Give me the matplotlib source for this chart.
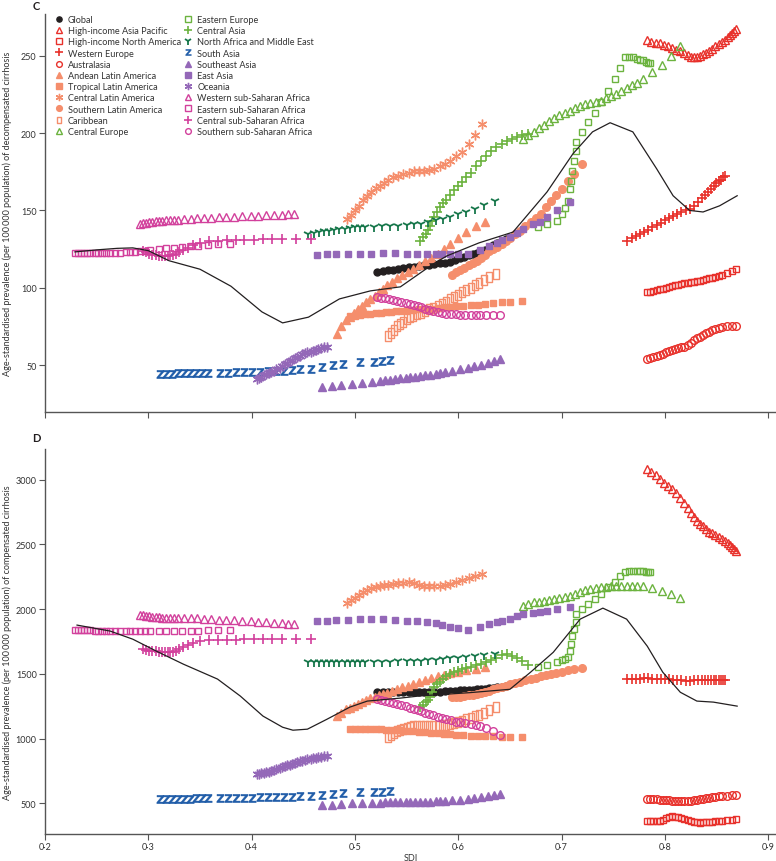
import matplotlib
matplotlib.use('Agg')
import matplotlib.pyplot as plt
from matplotlib.path import Path
from matplotlib.ticker import FuncFormatter

plt.rcParams['font.family'] = ['Lato', 'DejaVu Sans']

# ---- data: SDI (x), decompensated (panel C) and compensated (panel D) prevalence ----
sdi_global = [0.521, 0.527, 0.532, 0.537, 0.542, 0.547, 0.552, 0.557, 0.562, 0.567, 0.572, 0.577, 0.582, 0.587,
              0.592, 0.597, 0.602, 0.606, 0.610, 0.614, 0.618, 0.622, 0.626, 0.630, 0.634, 0.638, 0.642, 0.646]
dec_global = [110.3, 110.8, 111.3, 111.8, 112.3, 112.8, 113.3, 113.7, 114.1, 114.5, 114.9, 115.3, 115.8, 116.3,
              116.8, 118, 119.4, 120.2, 121, 121.8, 122.5, 123.3, 124.5, 126, 127.8, 129, 130.3, 131.5]
comp_global = [1358, 1358, 1359, 1359, 1360, 1360, 1360, 1361, 1361, 1362, 1362, 1363, 1364, 1366,
               1368, 1370, 1372, 1374, 1376, 1378, 1381, 1384, 1387, 1390, 1394, 1398, 1402, 1406]

sdi_hiap = [0.783, 0.787, 0.791, 0.795, 0.799, 0.803, 0.807, 0.811, 0.815, 0.819, 0.822, 0.825, 0.828, 0.831,
            0.834, 0.837, 0.840, 0.843, 0.846, 0.849, 0.852, 0.855, 0.858, 0.861, 0.863, 0.865, 0.867, 0.869]
dec_hiap = [260, 259, 258.5, 258, 257, 256, 255, 254, 253, 252, 250.5, 249.5, 249, 249.5,
            250, 251, 252, 253, 254.5, 256, 257.5, 259, 260.5, 262, 263.5, 265, 266, 267]
comp_hiap = [3083, 3060, 3035, 3005, 2975, 2950, 2925, 2895, 2860, 2820, 2780, 2745, 2715, 2685,
             2660, 2640, 2620, 2600, 2585, 2570, 2555, 2540, 2525, 2510, 2495, 2480, 2465, 2450]

sdi_hina = [0.783, 0.786, 0.789, 0.792, 0.795, 0.798, 0.801, 0.804, 0.807, 0.810, 0.813, 0.816, 0.819, 0.822,
            0.825, 0.828, 0.831, 0.834, 0.837, 0.840, 0.843, 0.846, 0.849, 0.852, 0.855, 0.860, 0.865, 0.869]
dec_hina = [97, 97.5, 98, 98.5, 99, 99.5, 100, 100.5, 101, 101.5, 102, 102.5, 103, 103.3,
            103.6, 104, 104.3, 104.6, 105, 105.5, 106, 106.5, 107, 107.5, 108, 109.5, 111, 112]
comp_hina = [362, 360, 362, 364, 360, 370, 385, 395, 400, 398, 392, 385, 378, 370,
             362, 356, 352, 350, 352, 354, 356, 358, 360, 362, 365, 370, 375, 378]

sdi_weur = [0.763, 0.768, 0.772, 0.776, 0.780, 0.784, 0.788, 0.792, 0.796, 0.800, 0.804, 0.808, 0.812, 0.816,
            0.820, 0.824, 0.828, 0.832, 0.836, 0.839, 0.842, 0.845, 0.848, 0.850, 0.852, 0.854, 0.856, 0.858]
dec_weur = [130, 132, 133.5, 135, 136, 137.5, 139, 140.5, 142, 143.5, 145, 146.5, 148, 149,
            150, 151, 153, 155.5, 158, 160, 162, 164, 166, 167.5, 169, 170, 171.5, 172.5]
comp_weur = [1462, 1462, 1463, 1464, 1465, 1465, 1464, 1463, 1462, 1460, 1458, 1455, 1452, 1450,
             1448, 1448, 1450, 1452, 1452, 1453, 1453, 1454, 1454, 1455, 1455, 1455, 1456, 1456]

sdi_aus = [0.783, 0.786, 0.789, 0.792, 0.795, 0.798, 0.801, 0.804, 0.807, 0.810, 0.813, 0.816, 0.819, 0.822,
           0.825, 0.828, 0.831, 0.834, 0.837, 0.840, 0.843, 0.846, 0.849, 0.852, 0.855, 0.860, 0.865, 0.869]
dec_aus = [54, 54.5, 55.2, 56, 56.8, 57.5, 58.2, 59, 59.7, 60.3, 61, 61.5, 62, 63,
           64.5, 66, 67.5, 68.5, 69.5, 70.5, 71.5, 72.5, 73.3, 74, 74.5, 75, 75.3, 75.5]
comp_aus = [533, 532, 531, 530, 528, 526, 524, 522, 520, 519, 518, 518, 518, 519,
            520, 522, 525, 530, 535, 540, 545, 548, 551, 554, 557, 560, 563, 565]

sdi_andean = [0.483, 0.487, 0.491, 0.495, 0.499, 0.503, 0.507, 0.511, 0.515, 0.519, 0.523, 0.527, 0.531, 0.536,
              0.541, 0.546, 0.551, 0.556, 0.562, 0.568, 0.574, 0.580, 0.586, 0.592, 0.600, 0.608, 0.617, 0.626]
dec_andean = [70, 75, 79, 81, 84, 86.5, 88, 90.5, 93, 95, 97, 99.5, 101.5, 103.5,
              106, 108.5, 110.5, 112, 114.5, 117, 119.5, 122, 125, 128.5, 132, 136, 140, 142.5]
comp_andean = [1175, 1200, 1225, 1240, 1255, 1270, 1285, 1300, 1315, 1325, 1335, 1345, 1355, 1365,
               1380, 1395, 1410, 1425, 1440, 1455, 1468, 1480, 1492, 1504, 1516, 1528, 1540, 1552]

sdi_tropical = [0.495, 0.500, 0.505, 0.510, 0.515, 0.520, 0.525, 0.530, 0.535, 0.540, 0.545, 0.550, 0.556, 0.562,
                0.568, 0.574, 0.580, 0.586, 0.592, 0.598, 0.605, 0.612, 0.619, 0.626, 0.634, 0.642, 0.650, 0.662]
dec_tropical = [81.5, 82, 82.5, 83, 83.3, 83.6, 84, 84.3, 84.6, 85, 85.2, 85.5, 85.8, 86,
                86.3, 86.6, 87, 87.3, 87.6, 88, 88.3, 88.6, 89, 89.5, 90, 90.5, 91, 91.5]
comp_tropical = [1075, 1074, 1073, 1073, 1072, 1072, 1071, 1070, 1068, 1066, 1064, 1060, 1056, 1052,
                 1048, 1044, 1040, 1036, 1032, 1030, 1026, 1024, 1022, 1020, 1018, 1016, 1014, 1012]

sdi_centlat = [0.492, 0.496, 0.500, 0.504, 0.508, 0.512, 0.516, 0.520, 0.524, 0.528, 0.532, 0.537, 0.542, 0.547,
               0.552, 0.557, 0.562, 0.567, 0.572, 0.577, 0.582, 0.587, 0.592, 0.598, 0.604, 0.610, 0.616, 0.623]
dec_centlat = [144.6, 147, 150, 153, 156.5, 159.5, 162, 164.5, 166, 168, 170, 171.5, 172.5, 173.5,
               174.5, 175.5, 175.6, 175.8, 176, 177, 178.5, 180, 182, 185, 188, 193, 199, 206]
comp_centlat = [2050, 2070, 2090, 2110, 2130, 2145, 2160, 2170, 2178, 2185, 2190, 2195, 2200, 2205,
                2210, 2200, 2190, 2180, 2178, 2178, 2180, 2185, 2195, 2210, 2225, 2240, 2255, 2270]

sdi_southlat = [0.594, 0.598, 0.602, 0.606, 0.610, 0.614, 0.618, 0.622, 0.626, 0.630, 0.634, 0.638, 0.642, 0.646,
                0.650, 0.655, 0.660, 0.665, 0.670, 0.675, 0.680, 0.685, 0.690, 0.695, 0.700, 0.706, 0.712, 0.720]
dec_southlat = [108.5, 110, 111.5, 113, 114.5, 116, 117.5, 119.5, 121.5, 123.5, 125, 126.5, 128, 130,
                132, 134.5, 137, 140, 142.5, 145, 148, 152, 156, 160, 164, 169, 173.5, 180]
comp_southlat = [1320, 1322, 1325, 1330, 1335, 1340, 1348, 1355, 1362, 1370, 1380, 1390, 1400, 1410,
                 1420, 1430, 1440, 1450, 1460, 1470, 1480, 1490, 1500, 1510, 1518, 1528, 1536, 1545]

sdi_carib = [0.532, 0.535, 0.538, 0.541, 0.544, 0.547, 0.550, 0.553, 0.556, 0.560, 0.564, 0.568, 0.572, 0.576,
             0.580, 0.584, 0.588, 0.592, 0.596, 0.600, 0.604, 0.608, 0.612, 0.616, 0.620, 0.625, 0.630, 0.637]
dec_carib = [69, 71, 73, 75, 76.5, 78, 79.5, 81, 82, 83, 84, 85, 86, 87,
             88, 89.5, 91, 92.5, 94, 95.5, 97, 98.5, 100, 101.5, 103, 105, 107, 109]
comp_carib = [1010, 1025, 1040, 1055, 1065, 1075, 1085, 1092, 1096, 1098, 1098, 1097, 1096, 1096,
              1098, 1102, 1108, 1115, 1122, 1130, 1138, 1148, 1160, 1172, 1185, 1200, 1220, 1245]

sdi_centeur = [0.663, 0.668, 0.673, 0.678, 0.683, 0.688, 0.693, 0.698, 0.703, 0.708, 0.713, 0.718, 0.723, 0.728,
               0.733, 0.738, 0.743, 0.748, 0.753, 0.758, 0.763, 0.768, 0.773, 0.779, 0.788, 0.797, 0.806, 0.815]
dec_centeur = [196, 199, 201, 203.5, 205.5, 207.5, 209.5, 211.5, 213, 214.5, 216, 217.5, 218.5, 219.5,
               220.3, 221, 222.5, 224, 225.5, 227.4, 229, 231, 232.5, 235, 239.5, 244, 250, 256.5]
comp_centeur = [2023, 2040, 2054, 2058, 2062, 2070, 2077, 2085, 2092, 2100, 2116, 2131, 2145, 2155,
                2165, 2170, 2175, 2178, 2178, 2178, 2178, 2178, 2178, 2176, 2165, 2140, 2115, 2085]

sdi_easteur = [0.677, 0.686, 0.696, 0.700, 0.703, 0.706, 0.708, 0.709, 0.710, 0.712, 0.714, 0.714, 0.720, 0.726,
               0.732, 0.738, 0.745, 0.752, 0.757, 0.761, 0.765, 0.769, 0.773, 0.776, 0.779, 0.782, 0.784, 0.786]
dec_easteur = [139.4, 141.3, 143.3, 148, 151.5, 156, 164, 169, 175.6, 182, 188.6, 194.4, 200.8, 207,
               213, 220, 227.4, 235, 242, 249, 249.5, 249, 248, 247.5, 247, 246, 245.5, 245]
comp_easteur = [1555, 1570, 1590, 1605, 1615, 1630, 1675, 1730, 1790, 1845, 1900, 1960, 2000, 2039,
                2077, 2116, 2170, 2209, 2255, 2290, 2294, 2294, 2294, 2293, 2292, 2290, 2288, 2286]

sdi_centasia = [0.563, 0.566, 0.569, 0.571, 0.573, 0.575, 0.577, 0.579, 0.582, 0.585, 0.588, 0.592, 0.596, 0.600,
                0.604, 0.608, 0.612, 0.617, 0.622, 0.627, 0.632, 0.637, 0.642, 0.647, 0.652, 0.657, 0.662, 0.668]
dec_centasia = [130.3, 133, 135, 137.5, 140, 143, 146, 149, 152, 155, 157, 160, 163, 165.5,
                168.5, 171.5, 174.5, 178.5, 182, 185.5, 188.5, 191, 193, 195, 196.5, 197.5, 198.5, 199.5]
comp_centasia = [1243, 1262, 1282, 1300, 1320, 1360, 1397, 1420, 1436, 1460, 1482, 1500, 1515, 1525,
                 1535, 1545, 1552, 1565, 1580, 1595, 1610, 1625, 1645, 1652, 1640, 1620, 1598, 1565]

sdi_name = [0.455, 0.460, 0.465, 0.470, 0.475, 0.480, 0.485, 0.490, 0.495, 0.500, 0.505, 0.510, 0.518, 0.526,
            0.534, 0.542, 0.550, 0.557, 0.564, 0.571, 0.578, 0.585, 0.592, 0.600, 0.608, 0.616, 0.625, 0.636]
dec_name = [134.9, 135.5, 136, 136.5, 137, 137.5, 138, 138.3, 138.6, 139, 139.2, 139.4, 139.6, 139.8,
            140, 140.2, 140.5, 141, 141.5, 142.5, 143.5, 144.6, 146, 147.5, 149, 151, 153.5, 156]
comp_name = [1590, 1590, 1590, 1590, 1590, 1590, 1590, 1590, 1590, 1590, 1590, 1590, 1592, 1593,
             1594, 1596, 1598, 1600, 1603, 1606, 1610, 1615, 1620, 1625, 1632, 1638, 1645, 1652]

sdi_sasia = [0.311, 0.317, 0.323, 0.329, 0.335, 0.340, 0.346, 0.352, 0.358, 0.369, 0.377, 0.385, 0.393, 0.400,
             0.408, 0.416, 0.424, 0.431, 0.439, 0.447, 0.457, 0.468, 0.479, 0.488, 0.505, 0.518, 0.526, 0.534]
dec_sasia = [44.3, 44.4, 44.5, 44.6, 44.7, 44.8, 44.9, 45, 45, 45.1, 45.2, 45.3, 45.4, 45.6,
             45.8, 46, 46.2, 46.5, 46.8, 47.2, 47.8, 48.6, 50, 51, 51.8, 52.3, 52.7, 53.2]
comp_sasia = [532, 533, 534, 535, 536, 537, 538, 539, 540, 541, 542, 543, 544, 545,
              546, 547, 548, 550, 552, 555, 560, 566, 575, 580, 584, 587, 590, 594]

sdi_seasia = [0.468, 0.478, 0.487, 0.497, 0.507, 0.517, 0.524, 0.529, 0.534, 0.539, 0.544, 0.549, 0.553, 0.558,
              0.563, 0.568, 0.573, 0.578, 0.582, 0.587, 0.594, 0.602, 0.609, 0.615, 0.622, 0.629, 0.635, 0.640]
dec_seasia = [36, 36.6, 37.3, 38, 38.7, 39.4, 39.8, 40.2, 40.6, 41, 41.4, 41.8, 42.2, 42.6,
              43, 43.4, 43.9, 44.4, 44.9, 45.4, 46.3, 47.3, 48.2, 49.2, 50.3, 51.5, 52.8, 54]
comp_seasia = [484, 490, 495, 500, 503, 505, 506, 507, 507, 508, 508, 509, 510, 511,
               512, 513, 514, 515, 517, 518, 522, 527, 533, 540, 548, 556, 563, 570]

sdi_easia = [0.463, 0.473, 0.482, 0.493, 0.505, 0.516, 0.527, 0.539, 0.550, 0.560, 0.570, 0.578, 0.584, 0.592,
             0.600, 0.609, 0.621, 0.630, 0.638, 0.642, 0.650, 0.657, 0.663, 0.672, 0.679, 0.686, 0.696, 0.708]
dec_easia = [121.5, 121.8, 122, 122, 122, 122, 122.3, 122.3, 122, 121.8, 121.8, 121.8, 121.8, 122,
             122, 122, 124.5, 127, 129, 131, 133, 135.5, 138, 141, 142.6, 145.8, 150, 155.5]
comp_easia = [1908, 1912, 1916, 1920, 1923, 1923, 1923, 1916, 1908, 1908, 1900, 1892, 1877, 1861,
              1853, 1838, 1861, 1885, 1900, 1908, 1925, 1945, 1962, 1970, 1977, 1985, 2000, 2016]

sdi_oceania = [0.405, 0.407, 0.409, 0.412, 0.414, 0.417, 0.419, 0.422, 0.424, 0.427, 0.429, 0.432, 0.434, 0.437,
               0.439, 0.442, 0.444, 0.447, 0.449, 0.452, 0.454, 0.457, 0.459, 0.462, 0.464, 0.467, 0.470, 0.473]
dec_oceania = [41, 41.8, 42.5, 43.3, 44, 44.8, 45.5, 46.3, 47.2, 48.2, 49.3, 50.5, 51.6, 52.7,
               53.6, 54.5, 55.3, 56.1, 56.9, 57.6, 58.2, 58.8, 59.4, 60, 60.5, 61, 61.5, 62]
comp_oceania = [725, 728, 732, 736, 740, 745, 750, 756, 763, 770, 778, 786, 793, 800,
                806, 812, 818, 824, 830, 835, 840, 845, 849, 853, 857, 860, 863, 866]

sdi_wssa = [0.292, 0.295, 0.298, 0.301, 0.304, 0.307, 0.310, 0.313, 0.317, 0.321, 0.325, 0.329, 0.335, 0.341,
            0.347, 0.354, 0.361, 0.368, 0.375, 0.383, 0.391, 0.399, 0.406, 0.414, 0.422, 0.429, 0.435, 0.441]
dec_wssa = [141.3, 141.6, 142, 142.3, 142.6, 142.9, 143.1, 143.3, 143.5, 143.7, 143.9, 144.1, 144.3, 144.6,
            144.8, 145, 145.3, 145.6, 145.8, 146, 146.2, 146.4, 146.6, 146.8, 147, 147.2, 147.4, 147.6]
comp_wssa = [1958, 1955, 1950, 1946, 1942, 1938, 1936, 1935, 1934, 1933, 1932, 1931, 1930, 1929,
             1928, 1925, 1922, 1919, 1916, 1913, 1910, 1907, 1904, 1900, 1896, 1892, 1888, 1884]

sdi_essa = [0.229, 0.232, 0.235, 0.238, 0.241, 0.244, 0.248, 0.251, 0.255, 0.259, 0.263, 0.268, 0.273, 0.278,
            0.282, 0.287, 0.292, 0.297, 0.302, 0.310, 0.317, 0.325, 0.333, 0.341, 0.348, 0.358, 0.367, 0.379]
dec_essa = [122.3, 122.3, 122.3, 122.3, 122.3, 122.3, 122.3, 122.4, 122.4, 122.5, 122.6, 122.7, 122.8, 122.9,
            123.1, 123.3, 123.6, 124, 124.4, 125, 125.5, 126, 126.4, 126.8, 127.2, 127.6, 128, 128.4]
comp_essa = [1840, 1840, 1839, 1838, 1837, 1836, 1835, 1834, 1833, 1832, 1831, 1830, 1830, 1830,
             1830, 1830, 1830, 1830, 1830, 1830, 1831, 1832, 1833, 1834, 1835, 1836, 1837, 1838]

sdi_cssa = [0.295, 0.298, 0.301, 0.304, 0.307, 0.310, 0.313, 0.316, 0.319, 0.321, 0.324, 0.327, 0.330, 0.334,
            0.338, 0.343, 0.350, 0.359, 0.367, 0.376, 0.385, 0.393, 0.402, 0.411, 0.420, 0.429, 0.443, 0.457]
dec_cssa = [124, 123, 122, 121.5, 121, 120.8, 120.7, 120.7, 120.8, 121, 121.5, 122, 123, 124.5,
            126, 127.5, 129, 130, 130.5, 130.8, 131, 131, 131.2, 131.3, 131.4, 131.5, 131.6, 131.7]
comp_cssa = [1690, 1685, 1680, 1677, 1675, 1673, 1670, 1668, 1667, 1668, 1672, 1680, 1690, 1705,
             1720, 1735, 1752, 1760, 1762, 1764, 1765, 1766, 1767, 1767, 1768, 1768, 1768, 1769]

sdi_sssa = [0.521, 0.525, 0.529, 0.533, 0.537, 0.541, 0.545, 0.549, 0.553, 0.557, 0.561, 0.564, 0.568, 0.572,
            0.576, 0.580, 0.584, 0.588, 0.593, 0.598, 0.602, 0.607, 0.612, 0.617, 0.621, 0.627, 0.634, 0.640]
dec_sssa = [94, 93.6, 93.2, 92.8, 92.3, 91.6, 91, 90.2, 89.5, 88.8, 88, 87.3, 86.5, 85.8,
            85, 84.4, 83.8, 83.3, 83, 82.8, 82.6, 82.5, 82.4, 82.3, 82.3, 82.3, 82.3, 82.3]
comp_sssa = [1306, 1300, 1292, 1284, 1275, 1266, 1258, 1250, 1240, 1230, 1220, 1210, 1200, 1190,
             1180, 1170, 1160, 1150, 1140, 1132, 1126, 1120, 1112, 1104, 1096, 1080, 1055, 1030]

# expected values by SDI (black line)
sdi_exp_c = [0.229, 0.250, 0.270, 0.285, 0.300, 0.320, 0.350, 0.380, 0.410, 0.430, 0.455, 0.485, 0.515, 0.544,
             0.576, 0.589, 0.620, 0.653, 0.686, 0.711, 0.730, 0.747, 0.769, 0.792, 0.808, 0.824, 0.837, 0.853, 0.870]
exp_c = [123.2, 124.5, 125.5, 125.8, 124, 117.5, 112, 101, 84.4, 77.3, 81, 92.8, 98, 100.6,
         115.5, 120.6, 129, 136, 162, 186.6, 200.8, 206.7, 200.8, 177, 159.5, 150, 149, 153, 159.5]
sdi_exp_d = [0.231, 0.263, 0.285, 0.308, 0.334, 0.367, 0.389, 0.411, 0.430, 0.440, 0.454, 0.473, 0.495, 0.512,
             0.544, 0.563, 0.611, 0.650, 0.670, 0.692, 0.718, 0.740, 0.763, 0.783, 0.798, 0.815, 0.831, 0.847, 0.870]
exp_d = [1877, 1831, 1768, 1675, 1575, 1460, 1329, 1174, 1088, 1065, 1073, 1150, 1243, 1290,
         1313, 1330, 1355, 1381, 1513, 1667, 1923, 2008, 1923, 1714, 1513, 1358, 1290, 1282, 1251]

labels = ['Global', 'High-income Asia Pacific', 'High-income North America', 'Western Europe', 'Australasia',
          'Andean Latin America', 'Tropical Latin America', 'Central Latin America', 'Southern Latin America',
          'Caribbean', 'Central Europe', 'Eastern Europe', 'Central Asia', 'North Africa and Middle East',
          'South Asia', 'Southeast Asia', 'East Asia', 'Oceania', 'Western sub-Saharan Africa',
          'Eastern sub-Saharan Africa', 'Central sub-Saharan Africa', 'Southern sub-Saharan Africa']

series = [
    (sdi_global, dec_global, comp_global), (sdi_hiap, dec_hiap, comp_hiap), (sdi_hina, dec_hina, comp_hina),
    (sdi_weur, dec_weur, comp_weur), (sdi_aus, dec_aus, comp_aus), (sdi_andean, dec_andean, comp_andean),
    (sdi_tropical, dec_tropical, comp_tropical), (sdi_centlat, dec_centlat, comp_centlat),
    (sdi_southlat, dec_southlat, comp_southlat), (sdi_carib, dec_carib, comp_carib),
    (sdi_centeur, dec_centeur, comp_centeur), (sdi_easteur, dec_easteur, comp_easteur),
    (sdi_centasia, dec_centasia, comp_centasia), (sdi_name, dec_name, comp_name),
    (sdi_sasia, dec_sasia, comp_sasia), (sdi_seasia, dec_seasia, comp_seasia), (sdi_easia, dec_easia, comp_easia),
    (sdi_oceania, dec_oceania, comp_oceania), (sdi_wssa, dec_wssa, comp_wssa), (sdi_essa, dec_essa, comp_essa),
    (sdi_cssa, dec_cssa, comp_cssa), (sdi_sssa, dec_sssa, comp_sssa),
]

# ---- styles ----
RED, SALMON, GREEN, DKGREEN = '#e8312b', '#f58e6c', '#6cb33f', '#17774b'
BLUE, PURPLE, MAGENTA = '#1f5ca8', '#9468b8', '#d2409c'
rect = Path([(-0.32, -0.5), (0.32, -0.5), (0.32, 0.5), (-0.32, 0.5), (-0.32, -0.5)],
            [Path.MOVETO, Path.LINETO, Path.LINETO, Path.LINETO, Path.CLOSEPOLY])
asterisk = (6, 2, 0)


def st(color, marker, filled, ms=5.5, mew=1.0):
    return dict(color=color, marker=marker, ms=ms, mew=mew,
                mfc=color if filled else 'none', mec=color)


styles = [
    st('#231f20', 'o', True, 5), st(RED, '^', False, 6), st(RED, 's', False, 5), st(RED, '+', True, 7, 1.2),
    st(RED, 'o', False, 5.5), st(SALMON, '^', True, 6), st(SALMON, 's', True, 5), st(SALMON, asterisk, True, 7),
    st(SALMON, 'o', True, 5.5), st(SALMON, rect, False, 6.5), st(GREEN, '^', False, 6), st(GREEN, 's', False, 5),
    st(GREEN, '+', True, 7, 1.2), st(DKGREEN, '1', True, 7, 1.3), st(BLUE, r'$\mathbf{Z}$', True, 6, 0.3),
    st(PURPLE, '^', True, 6), st(PURPLE, 's', True, 5), st(PURPLE, asterisk, True, 7),
    st(MAGENTA, '^', False, 6), st(MAGENTA, 's', False, 5), st(MAGENTA, '+', True, 7, 1.2),
    st(MAGENTA, 'o', False, 5.5),
]

fig = plt.figure(figsize=(7.76, 8.62), dpi=100)
ax_c = fig.add_axes([0.058, 0.5209, 0.942, 0.4617])
ax_d = fig.add_axes([0.058, 0.0313, 0.942, 0.4466])

dot = FuncFormatter(lambda v, p: ('%.1f' % v).replace('.', '\u00b7'))

for i, ((x, yc, yd), s) in enumerate(zip(series, styles)):
    ax_c.plot(x, yc, ls='none', label=labels[i], **s)
    ax_d.plot(x, yd, ls='none', **s)

ax_c.plot(sdi_exp_c, exp_c, color='#231f20', lw=0.9, zorder=5)
ax_d.plot(sdi_exp_d, exp_d, color='#231f20', lw=0.9, zorder=5)

for ax in (ax_c, ax_d):
    ax.set_xlim(0.2, 0.9076)
    ax.set_xticks([0.2, 0.3, 0.4, 0.5, 0.6, 0.7, 0.8, 0.9])
    ax.xaxis.set_major_formatter(dot)
    for side in ('top', 'right'):
        ax.spines[side].set_visible(False)
    for side in ('left', 'bottom'):
        ax.spines[side].set_color('#555555')
        ax.spines[side].set_linewidth(1.0)
    ax.tick_params(direction='out', length=4, width=0.8, color='#555555', labelsize=6.5,
                   labelcolor='#333333', pad=2)
    ax.yaxis.set_label_coords(-0.045, 0.5)

ax_c.set_ylim(19.7, 277)
ax_c.set_yticks([50, 100, 150, 200, 250])
ax_c.tick_params(axis='x', labelbottom=False)
ax_d.set_ylim(263, 3237)
ax_d.set_yticks([500, 1000, 1500, 2000, 2500, 3000])

ax_c.set_ylabel('Age-standardised prevalence (per 100\u2009000 population) of decompensated cirrhosis',
                fontsize=6.5, color='#333333', family=['Lato', 'DejaVu Sans'])
ax_d.set_ylabel('Age-standardised prevalence (per 100\u2009000 population) of compensated cirrhosis',
                fontsize=6.5, color='#333333', family=['Lato', 'DejaVu Sans'])
ax_d.set_xlabel('SDI', fontsize=6.5, color='#333333', labelpad=1)

fig.text(36 / 776, 1 - 7 / 862, 'C', fontsize=8, fontweight='bold', color='#231f20', ha='center', va='center')
fig.text(36 / 776, 1 - 439 / 862, 'D', fontsize=8, fontweight='bold', color='#231f20', ha='center', va='center')

leg = ax_c.legend(loc='upper left', bbox_to_anchor=(0.012, 1.0), ncol=2, frameon=False, fontsize=6.6,
                  markerscale=0.75, handlelength=0.9, handletextpad=0.5, labelspacing=0.24,
                  columnspacing=0.4, borderaxespad=0, borderpad=0.1)
for t in leg.get_texts():
    t.set_color('#333333')

fig.savefig('out.png', dpi=100)
